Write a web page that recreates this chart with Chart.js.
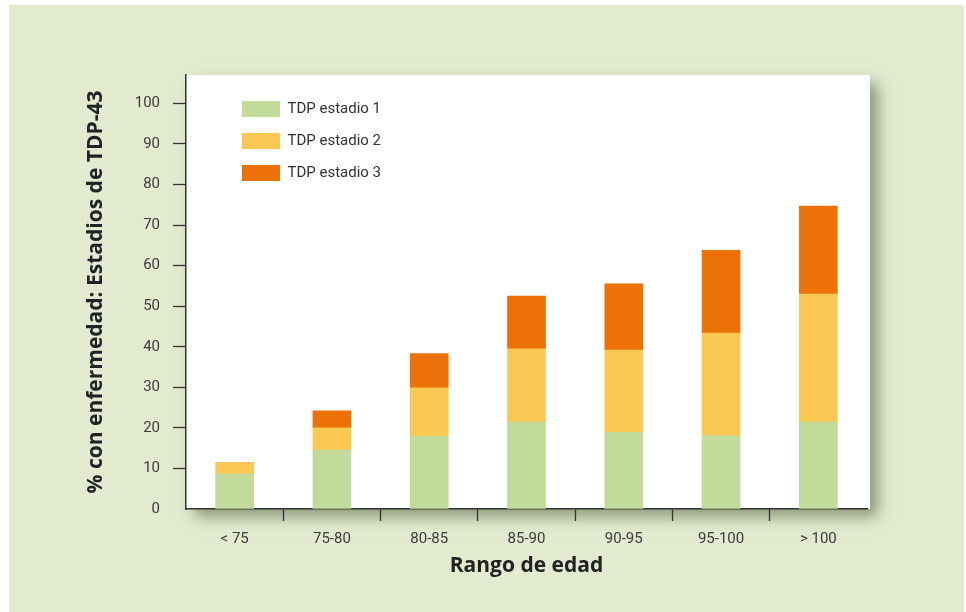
<!DOCTYPE html>
<html lang="es">
<head>
<meta charset="utf-8">
<title>TDP-43 por rango de edad</title>
<script src="https://cdn.jsdelivr.net/npm/chart.js@4/dist/chart.umd.min.js"></script>
<style>
  html, body { margin: 0; padding: 0; background: #ffffff; }
  #wrap { width: 966px; height: 612px; position: relative; }
</style>
</head>
<body>
<div id="wrap"><canvas id="chart" width="966" height="612"></canvas></div>
<script>
// Age ranges on the x axis
const categories = ['< 75', '75-80', '80-85', '85-90', '90-95', '95-100', '> 100'];

// Percentage of cases in each TDP-43 stage (stacked)
const stage1 = [8.6, 14.5, 17.9, 21.4, 18.9, 18.1, 21.4];
const stage2 = [2.8, 5.5, 12.0, 18.1, 20.3, 25.3, 31.6];
const stage3 = [0, 4.2, 8.4, 13.0, 16.3, 20.4, 21.7];

const seriesNames = ['TDP estadio 1', 'TDP estadio 2', 'TDP estadio 3'];

// Y axis tick values shown
const yTicks = [0, 10, 20, 30, 40, 50, 60, 70, 80, 90, 100];

const COLORS = ['#c2da9a', '#fcc854', '#ec7108'];
const AXIS = '#333333';
const TEXT = '#3a3a3a';

// Page panel + white plotting panel with a soft drop shadow
const panelPlugin = {
  id: 'panel',
  beforeDraw(chart) {
    const { ctx, chartArea, width, height } = chart;
    ctx.save();
    ctx.fillStyle = '#ffffff';
    ctx.fillRect(0, 0, width, height);
    ctx.fillStyle = '#e2ebd0';
    ctx.fillRect(9, 5, width - 11, height - 5);
    ctx.shadowColor = 'rgba(85, 100, 65, 0.6)';
    ctx.shadowBlur = 14;
    ctx.shadowOffsetX = 8;
    ctx.shadowOffsetY = 8;
    ctx.fillStyle = '#ffffff';
    ctx.fillRect(chartArea.left, chartArea.top,
                 chartArea.right - chartArea.left + 3,
                 chartArea.bottom - chartArea.top);
    ctx.restore();
  }
};

// Nudge the in-plot legend to its spot in the upper left of the plot
const legendSpot = {
  id: 'legendSpot',
  afterLayout(chart) {
    const lg = chart.legend;
    if (!lg) return;
    const a = chart.chartArea;
    lg.left = a.left + 40;
    lg.top = a.top + 10;
    lg.right = lg.left + lg.width;
    lg.bottom = a.bottom;
  }
};

new Chart(document.getElementById('chart'), {
  type: 'bar',
  data: {
    labels: categories,
    datasets: [stage1, stage2, stage3].map((vals, i) => ({
      label: seriesNames[i],
      data: vals,
      backgroundColor: COLORS[i],
      borderWidth: 0,
      barThickness: 38,
      stack: 'tdp'
    }))
  },
  plugins: [panelPlugin, legendSpot],
  options: {
    responsive: false,
    animation: false,
    devicePixelRatio: 1,
    layout: { padding: { left: 70, right: 99, top: 75, bottom: 30 } },
    plugins: {
      tooltip: { enabled: false },
      legend: {
        position: 'chartArea',
        align: 'start',
        labels: {
          boxWidth: 38,
          boxHeight: 16,
          padding: 16,
          color: '#333333',
          font: { family: 'Roboto', size: 15 }
        }
      }
    },
    scales: {
      x: {
        stacked: true,
        afterFit(scale) { scale.height = 73; },
        border: { display: true, color: AXIS, width: 1.5 },
        grid: {
          offset: true,
          drawOnChartArea: false,
          drawTicks: true,
          tickLength: 12,
          tickWidth: 1.3,
          tickColor: (c) => (c.type === 'tick' && c.index > 0) ? AXIS : 'rgba(0,0,0,0)'
        },
        ticks: {
          color: TEXT,
          padding: 9,
          font: { family: 'Roboto', size: 15 }
        },
        title: {
          display: true,
          text: 'Rango de edad',
          color: '#222222',
          padding: { top: 0, bottom: 3 },
          font: { family: 'Open Sans', size: 21, weight: 'bold' }
        }
      },
      y: {
        stacked: true,
        min: 0,
        max: 107,
        afterFit(scale) { scale.width = 116; },
        afterBuildTicks(scale) {
          scale.ticks = yTicks.map(v => ({ value: v }));
        },
        border: { display: true, color: AXIS, width: 1.5 },
        grid: {
          drawOnChartArea: false,
          drawTicks: true,
          tickLength: 13,
          tickWidth: 1.3,
          tickColor: (c) => (c.type === 'tick' && c.tick && c.tick.value > 0) ? AXIS : 'rgba(0,0,0,0)'
        },
        ticks: {
          color: TEXT,
          padding: 13,
          font: { family: 'Roboto', size: 15 }
        },
        title: {
          display: true,
          text: '% con enfermedad: Estadios de TDP-43',
          color: '#222222',
          padding: { top: 13, bottom: 0 },
          font: { family: 'Open Sans', size: 21, weight: 'bold' }
        }
      }
    }
  }
});
</script>
</body>
</html>
